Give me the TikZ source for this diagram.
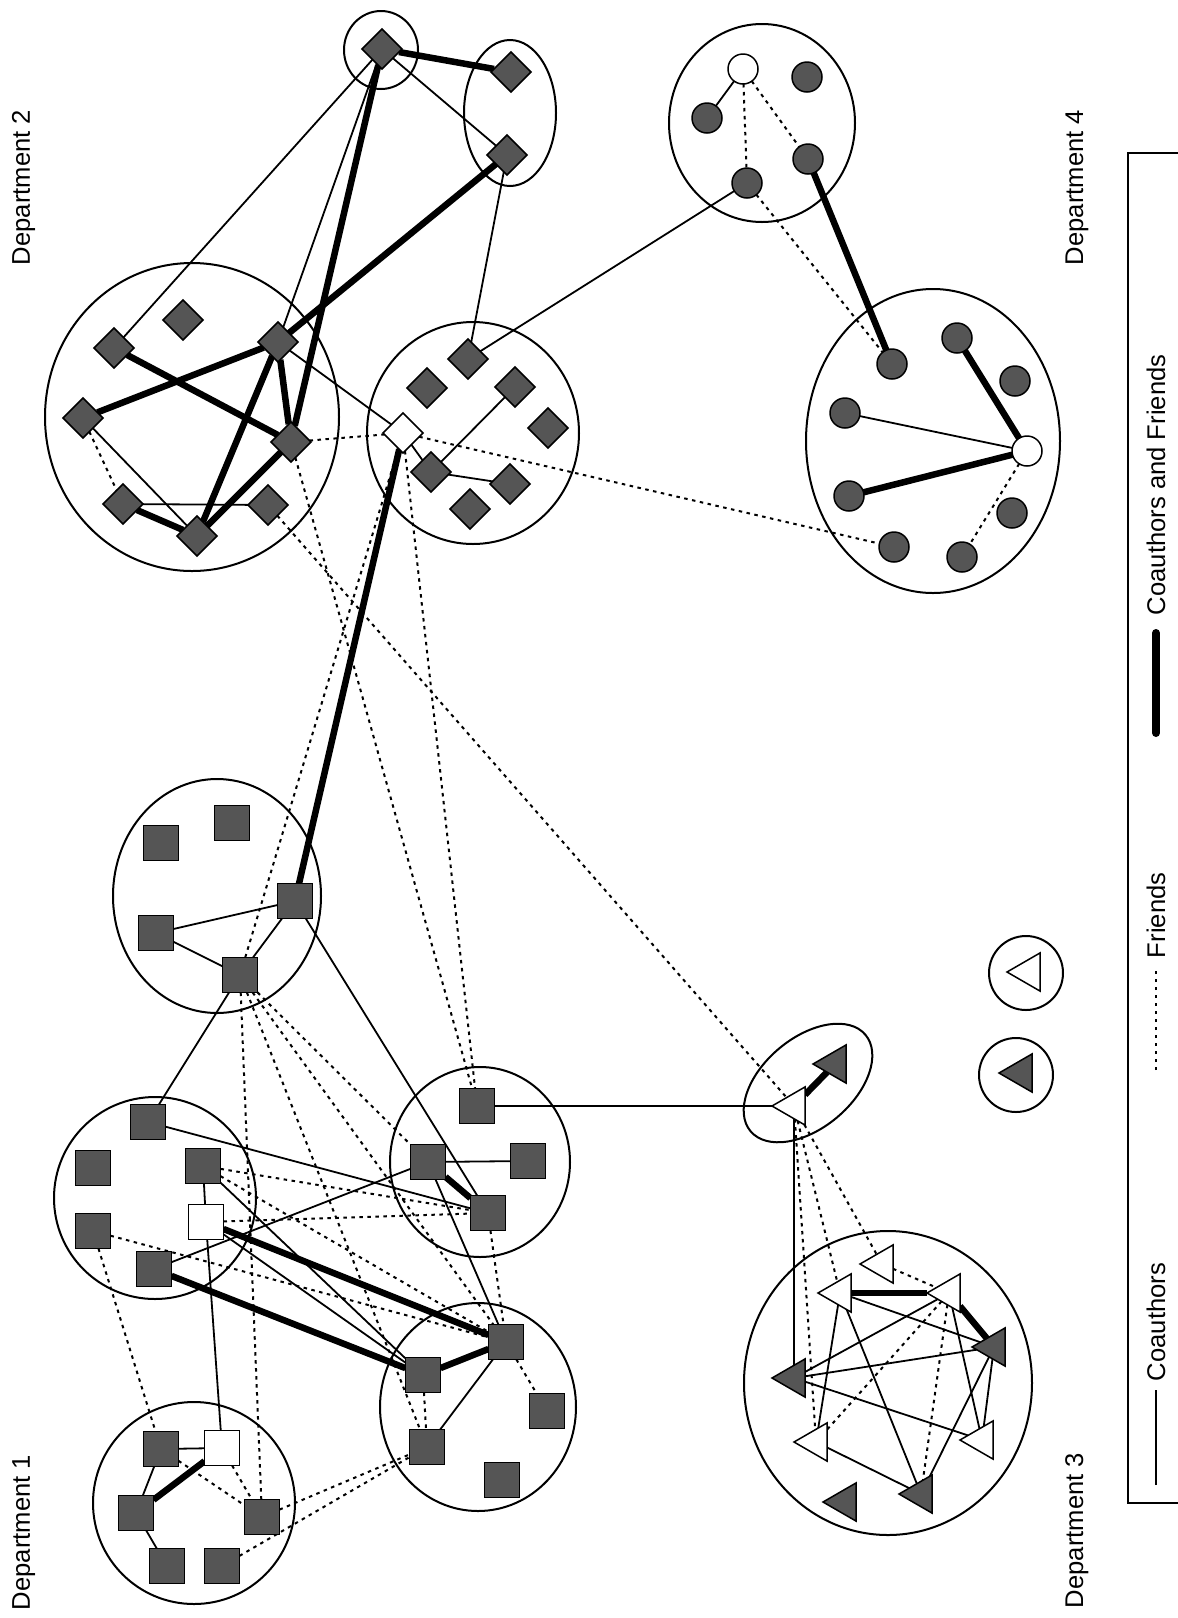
\documentclass[tikz,border=0pt]{standalone}
\usepackage{fontspec}
\setmainfont{Liberation Sans}
\usetikzlibrary{shapes.geometric}
\pgfdeclarelayer{bg}
\pgfsetlayers{bg,main}
\definecolor{nodegray}{HTML}{555555}
\begin{document}
\begin{tikzpicture}[x=1pt,y=-1pt,
  every node/.style={inner sep=0pt, outer sep=0pt},
  member/.style={draw=black, line width=1.5pt, fill=nodegray},
  lead/.style={draw=black, line width=1.5pt, fill=white},
  sq/.style={rectangle, minimum size=35pt},
  dm/.style={diamond, minimum width=40pt, minimum height=40pt},
  ci/.style={circle, minimum size=30pt},
  tri/.style={regular polygon, regular polygon sides=3, shape border rotate=90, minimum size=44pt},
  grp/.style={draw, line width=2pt},
  coauth/.style={line width=1.8pt},
  friend/.style={line width=2pt, dash pattern=on 3.5pt off 4.5pt},
  strong/.style={line width=6.5pt},
  dept/.style={font=\fontsize{25.6}{30}\selectfont, rotate=90, anchor=base west},
]
\useasboundingbox (0,0) rectangle (1178,1618);

% ---------------- group outlines ----------------
% Department 2
\draw[grp] (381,50) ellipse [x radius=37, y radius=39];
\draw[grp] (510,113) ellipse [x radius=46, y radius=73];
\draw[grp] (192,417) ellipse [x radius=147, y radius=154];
\draw[grp] (473,433) ellipse [x radius=106, y radius=111];
% Department 4
\draw[grp] (762,123) ellipse [x radius=93, y radius=99];
\draw[grp] (933,441) ellipse [x radius=127, y radius=152];
% Department 1
\draw[grp] (217,896) ellipse [x radius=104, y radius=117];
\draw[grp] (155,1198) ellipse [x radius=101, y radius=101];
\draw[grp] (480,1162) ellipse [x radius=90, y radius=95];
\draw[grp] (478,1407) ellipse [x radius=98, y radius=104];
\draw[grp] (194,1503) ellipse [x radius=101, y radius=101];
% Department 3
\draw[grp, rotate around={40:(808,1083)}] (808,1083) ellipse [x radius=75, y radius=45];
\draw[grp] (1026,973) circle [radius=37];
\draw[grp] (1016,1075) circle [radius=37];
\draw[grp] (888,1383) ellipse [x radius=144, y radius=152];

% ---------------- Department 2 (diamonds) ----------------
\node[dm,member] (Dtop) at (382,49) {};
\node[dm,member] (J) at (511,72) {};
\node[dm,member] (K) at (507,155) {};
\node[dm,member] (A) at (114,348) {};
\node[dm,member] (B) at (183,320) {};
\node[dm,member] (C) at (278,342) {};
\node[dm,member] (E) at (83,418) {};
\node[dm,member] (F) at (291,442) {};
\node[dm,member] (G) at (123,504) {};
\node[dm,member] (H) at (197,536) {};
\node[dm,member] (I) at (268,505) {};
\node[dm,member] (L) at (468,359) {};
\node[dm,member] (M) at (427,388) {};
\node[dm,member] (N) at (515,387) {};
\node[dm,member] (O) at (548,428) {};
\node[dm,lead]   (W) at (403,433) {};
\node[dm,member] (P) at (431,472) {};
\node[dm,member] (Q) at (510,484) {};
\node[dm,member] (R) at (470,509) {};

% ---------------- Department 4 (circles) ----------------
\node[ci,lead]   (w1) at (743,69) {};
\node[ci,member] (c41) at (707,118) {};
\node[ci,member] (c42) at (747,183) {};
\node[ci,member] (c43) at (807,77) {};
\node[ci,member] (c44) at (808,159) {};
\node[ci,member] (c45) at (892,364) {};
\node[ci,member] (c46) at (957,338) {};
\node[ci,member] (c47) at (1015,381) {};
\node[ci,member] (c48) at (845,413) {};
\node[ci,lead]   (w2) at (1027,451) {};
\node[ci,member] (c49) at (849,496) {};
\node[ci,member] (c4a) at (894,547) {};
\node[ci,member] (c4b) at (962,557) {};
\node[ci,member] (c4c) at (1012,513) {};

% ---------------- Department 1 (squares) ----------------
\node[sq,member] (a1) at (161,843) {};
\node[sq,member] (a2) at (232,823) {};
\node[sq,member] (a3) at (156,933) {};
\node[sq,member] (a4) at (295,901) {};
\node[sq,member] (a5) at (240,975) {};
\node[sq,member] (b1) at (148,1122) {};
\node[sq,member] (b2) at (93,1168) {};
\node[sq,member] (b3) at (203,1166) {};
\node[sq,member] (b4) at (93,1231) {};
\node[sq,lead]   (bw) at (206,1222) {};
\node[sq,member] (b5) at (154,1269) {};
\node[sq,member] (t1) at (477,1106) {};
\node[sq,member] (t2) at (428,1162) {};
\node[sq,member] (t3) at (528,1161) {};
\node[sq,member] (t4) at (488,1213) {};
\node[sq,member] (d1) at (506,1342) {};
\node[sq,member] (d2) at (423,1375) {};
\node[sq,member] (d3) at (547,1411) {};
\node[sq,member] (d4) at (427,1447) {};
\node[sq,member] (d5) at (502,1480) {};
\node[sq,member] (e1) at (161,1449) {};
\node[sq,lead]   (ew) at (222,1448) {};
\node[sq,member] (e2) at (136,1513) {};
\node[sq,member] (e3) at (262,1517) {};
\node[sq,member] (e4) at (167,1566) {};
\node[sq,member] (e5) at (222,1566) {};

% ---------------- Department 3 (triangles) ----------------
\node[tri,lead]   (U) at (794,1106) {};
\node[tri,member] (V) at (835,1064) {};
\node[tri,lead]   (S1) at (1029,972) {};
\node[tri,member] (S2) at (1021,1073) {};
\node[tri,lead]   (Ta) at (882,1264) {};
\node[tri,lead]   (Tb) at (840,1293) {};
\node[tri,lead]   (Tc) at (949,1293) {};
\node[tri,member] (Td) at (994,1347) {};
\node[tri,member] (Te) at (794,1378) {};
\node[tri,lead]   (Tf) at (816,1442) {};
\node[tri,lead]   (Tg) at (982,1440) {};
\node[tri,member] (Th) at (921,1494) {};
\node[tri,member] (Ti) at (845,1502) {};

% ---------------- ties ----------------
\begin{pgfonlayer}{bg}
% Department 2
\draw[strong] (Dtop) -- (J);
\draw[coauth] (Dtop) -- (K);
\draw[coauth] (Dtop) -- (A);
\draw[coauth] (Dtop) -- (C);
\draw[strong] (Dtop) -- (F);
\draw[strong] (K) -- (C);
\draw[strong] (C) -- (E);
\draw[strong] (A) -- (F);
\draw[strong] (C) -- (F);
\draw[strong] (C) -- (H);
\draw[strong] (H) -- (F);
\draw[strong] (G) -- (H);
\draw[coauth] (E) -- (H);
\draw[friend] (E) -- (G);
\draw[coauth] (G) -- (I);
\draw[coauth] (C) -- (W);
\draw[friend] (F) -- (W);
\draw[coauth] (K) -- (L);
\draw[coauth] (W) -- (P);
\draw[coauth] (P) -- (N);
\draw[coauth] (P) -- (Q);
% Department 4
\draw[coauth] (w1) -- (c41);
\draw[friend] (w1) -- (c42);
\draw[friend] (w1) -- (c44);
\draw[friend] (c42) -- (c45);
\draw[strong] (c44) -- (c45);
\draw[coauth] (c42) -- (L);
\draw[strong] (c46) -- (w2);
\draw[coauth] (c48) -- (w2);
\draw[strong] (c49) -- (w2);
\draw[friend] (w2) -- (c4b);
\draw[friend] (W) -- (c4a);
% between departments
\draw[strong] (W) -- (a4);
\draw[friend] (W) -- (a5);
\draw[friend] (W) -- (t1);
\draw[friend] (F) -- (t1);
\draw[friend] (I) -- (U);
\draw[coauth] (t1) -- (U);
% Department 1
\draw[coauth] (a3) -- (a4);
\draw[coauth] (a3) -- (a5);
\draw[coauth] (a4) -- (a5);
\draw[coauth] (a5) -- (b1);
\draw[coauth] (a4) -- (t4);
\draw[coauth] (b1) -- (t4);
\draw[coauth] (b3) -- (bw);
\draw[coauth] (bw) -- (ew);
\draw[coauth] (e1) -- (ew);
\draw[coauth] (e1) -- (e2);
\draw[coauth] (e2) -- (e4);
\draw[strong] (ew) -- (e2);
\draw[coauth] (t2) -- (b5);
\draw[coauth] (t2) -- (t3);
\draw[strong] (t2) -- (t4);
\draw[coauth] (t2) -- (d1);
\draw[coauth] (b3) -- (d2);
\draw[coauth] (bw) -- (d2);
\draw[strong] (bw) -- (d1);
\draw[strong] (b5) -- (d2);
\draw[strong] (d1) -- (d2);
\draw[coauth] (d1) -- (d4);
\draw[friend] (d2) -- (d4);
\draw[friend] (a5) -- (e3);
\draw[friend] (a5) -- (d4);
\draw[friend] (a5) -- (t2);
\draw[friend] (a5) -- (d1);
\draw[friend] (b3) -- (t4);
\draw[friend] (bw) -- (t4);
\draw[friend] (b4) -- (d1);
\draw[friend] (b3) -- (d1);
\draw[friend] (t4) -- (d1);
\draw[friend] (d1) -- (d3);
\draw[friend] (b4) -- (e1);
\draw[friend] (e1) -- (e3);
\draw[friend] (ew) -- (e3);
\draw[friend] (e3) -- (d4);
\draw[friend] (e5) -- (d4);
% Department 3
\draw[strong] (U) -- (V);
\draw[coauth] (U) -- (Te);
\draw[friend] (U) -- (Tf);
\draw[friend] (U) -- (Tb);
\draw[friend] (U) -- (Ta);
\draw[strong] (Tb) -- (Tc);
\draw[strong] (Tc) -- (Td);
\draw[friend] (Ta) -- (Tc);
\draw[coauth] (Tb) -- (Td);
\draw[coauth] (Tb) -- (Tf);
\draw[coauth] (Tb) -- (Th);
\draw[coauth] (Tc) -- (Te);
\draw[friend] (Tc) -- (Tf);
\draw[friend] (Tc) -- (Th);
\draw[coauth] (Tc) -- (Tg);
\draw[coauth] (Td) -- (Te);
\draw[coauth] (Td) -- (Th);
\draw[coauth] (Td) -- (Tg);
\draw[coauth] (Te) -- (Tg);
\draw[coauth] (Tf) -- (Th);
\end{pgfonlayer}

% ---------------- department names ----------------
\node[dept] (n2) at (30,265) {Department 2};
\node[dept] (n4) at (1083,265) {Department 4};
\node[dept] (n1) at (30,1610) {Department 1};
\node[dept] (n3) at (1083,1608) {Department 3};

% ---------------- legend ----------------
\draw[line width=1.5pt] (1178,153) -- (1128,153) -- (1128,1503) -- (1178,1503);
\coordinate (k1a) at (1156,1485);
\coordinate (k1b) at (1156,1390);
\draw[coauth] (k1a) -- (k1b);
\node[dept] (k1) at (1165,1381) {Coauthors};
\coordinate (k2a) at (1156,1070);
\coordinate (k2b) at (1156,968);
\draw[friend] (k2a) -- (k2b);
\node[dept] (k2) at (1165,958) {Friends};
\coordinate (k3a) at (1156,733);
\coordinate (k3b) at (1156,633);
\draw[line width=8pt, line cap=round] (k3a) -- (k3b);
\node[dept] (k3) at (1165,615) {Coauthors and Friends};
\end{tikzpicture}
\end{document}
